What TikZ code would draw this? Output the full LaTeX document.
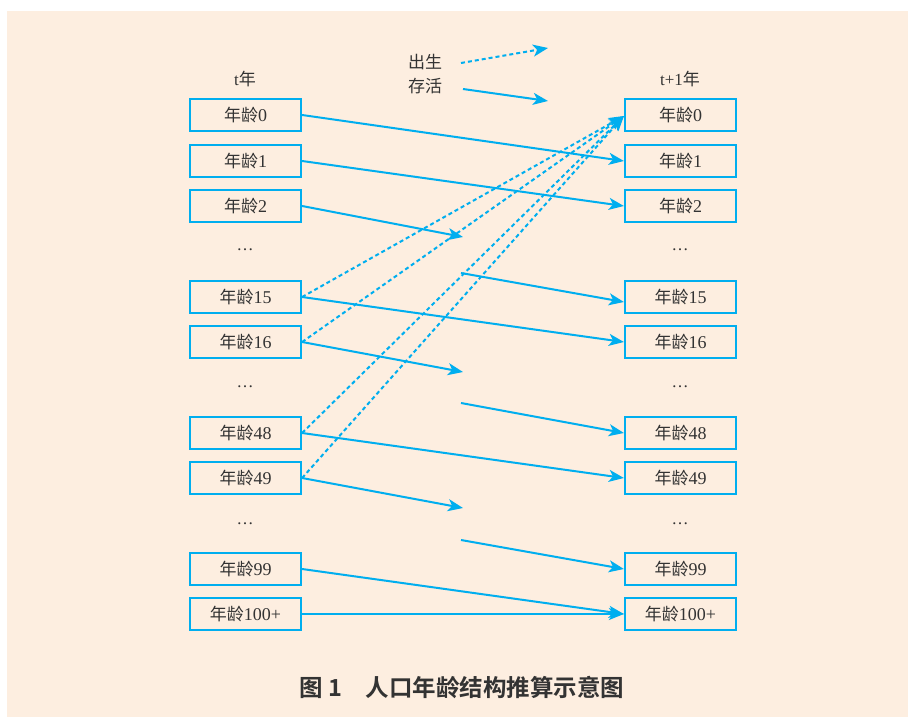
\documentclass[tikz,border=0pt]{standalone}
\usepackage{fontspec}
\setmainfont{Liberation Serif}
\newfontfamily\cjk{Noto Sans CJK SC}[BoldFont={Noto Sans CJK SC Bold}]
\usetikzlibrary{arrows.meta}
\definecolor{bg}{HTML}{FDEEE0}
\definecolor{cyanb}{HTML}{00AEEF}
\definecolor{txt}{HTML}{333333}
\newcommand{\nl}{{\cjk\fontsize{17}{19}\selectfont 年龄}}
\begin{document}
\begin{tikzpicture}[x=1pt,y=-1pt,
  agebox/.style={draw=cyanb,line width=2.2pt,minimum width=111pt,minimum height=32pt,inner sep=0pt,text=txt,font=\fontsize{18}{20}\selectfont},
  lab/.style={text=txt,font=\fontsize{17}{19}\selectfont},
  surv/.style={draw=cyanb,line width=2pt,-{Stealth[length=15pt,width=12pt,inset=4pt]}},
  line/.style={draw=cyanb,line width=2pt},
  birth/.style={draw=cyanb,line width=2pt,dash pattern=on 4pt off 3pt,-{Stealth[length=15pt,width=12pt,inset=4pt]}}]
\useasboundingbox (0,0) rectangle (908,717);
\fill[bg] (7,11) rectangle (908,717);
% labels
\node[lab] (tl) at (245,79) {t{\cjk 年}};
\node[lab] (tr) at (680,79) {t+1{\cjk 年}};
\node[lab] (lb) at (425,62) {\cjk 出生};
\node[lab] (ls) at (425,86) {\cjk 存活};
\coordinate (lb1) at (461,63);
\coordinate (lb2) at (548,48);
\coordinate (ls1) at (463,89);
\coordinate (ls2) at (548,101);
\draw[birth] (lb1) -- (lb2);
\draw[surv] (ls1) -- (ls2);
% boxes
\foreach \n/\y in {0/115,1/161,2/206,15/297,16/342,48/433,49/478,99/569,100/614}{
  \node[agebox] (L\n) at (245.5,\y) {\nl\n\ifnum\n=100 +\fi};
  \node[agebox] (R\n) at (680.5,\y) {\nl\n\ifnum\n=100 +\fi};
}
\foreach \y/\k in {250/a,387/b,524/c}{
  \node[lab] (dl\k) at (245,\y) {\ldots};
  \node[lab] (dr\k) at (680,\y) {\ldots};
}
% mid coordinates
\coordinate (m1) at (463,237);
\coordinate (n1) at (461,273);
\coordinate (m2) at (463,372);
\coordinate (n2) at (461,403);
\coordinate (m3) at (463,508);
\coordinate (n3) at (461,540);
% survival arrows
\draw[surv] (L0.east) -- (R1.west);
\draw[surv] (L1.east) -- (R2.west);
\draw[surv] (L2.east) -- (m1);
\draw[surv] (n1) -- ([yshift=-5pt]R15.west);
\draw[surv] (L15.east) -- (R16.west);
\draw[surv] (L16.east) -- (m2);
\draw[surv] (n2) -- (R48.west);
\draw[surv] (L48.east) -- (R49.west);
\draw[surv] (L49.east) -- (m3);
\draw[surv] (n3) -- (R99.west);
\draw[surv] (L99.east) -- (R100.west);
\draw[surv] (L100.east) -- (R100.west);
% birth arrows
\foreach \n in {15,16,48,49}{
  \draw[birth] (L\n.east) -- ([yshift=-1pt]R0.west);
}
% caption
\node[text=txt,font=\cjk\bfseries\fontsize{23.5}{26}\selectfont] (cap) at (462,688) {图 1\hspace{1em}人口年龄结构推算示意图};
\end{tikzpicture}
\end{document}
